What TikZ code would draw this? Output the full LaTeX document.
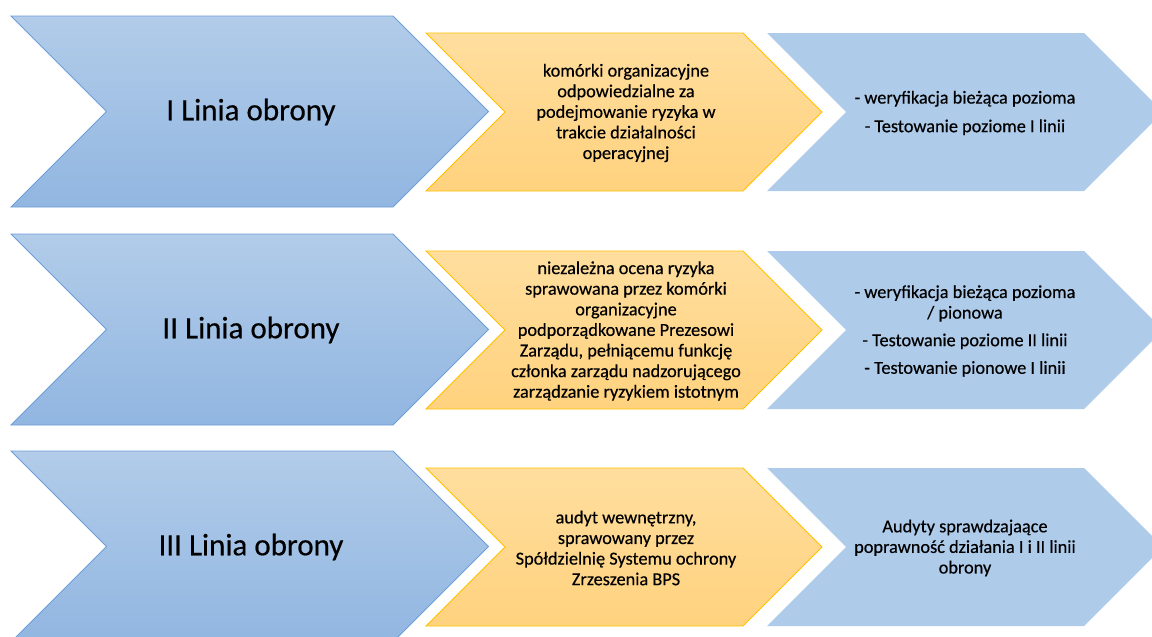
\documentclass[tikz,border=0pt]{standalone}
\usepackage{fontspec}
\setmainfont{Carlito}
\definecolor{bigtop}{HTML}{B2CCE9}
\definecolor{bigbot}{HTML}{91B6E1}
\definecolor{bigline}{HTML}{6E9ED8}
\definecolor{ortop}{HTML}{FFDE9E}
\definecolor{orbot}{HTML}{FFD27E}
\definecolor{orline}{HTML}{FFC000}
\definecolor{lightblue}{HTML}{AECBEA}
\newcommand\mychev[5]{%
  % #1 style, #2 left x, #3 top y, #4 right x (body), #5 height
  \pgfmathsetmacro\chd{#5/2}%
  \path[#1] (#2,#3) -- (#4,#3) -- ({#4+\chd},{#3+\chd}) -- (#4,{#3+#5})
    -- (#2,{#3+#5}) -- ({#2+\chd},{#3+\chd}) -- cycle;}
\tikzset{
  bigchev/.style={draw=bigline, line width=0.8pt, top color=bigtop, bottom color=bigbot},
  orchev/.style={draw=orline, line width=0.9pt, top color=ortop, bottom color=orbot},
  lbchev/.style={fill=lightblue},
  biglabel/.style={font=\fontsize{31}{36}\selectfont\addfontfeature{FakeBold=0.4}, text=black},
  smalltext/.style={font=\fontsize{18.3}{20.6}\selectfont\addfontfeature{FakeBold=0.4}, align=center, text=black, inner sep=0pt},
}
\begin{document}
\begin{tikzpicture}[x=1pt,y=-1pt]
\useasboundingbox (0,0) rectangle (1152,637);
\clip (0,0) rectangle (1152,637);
% row 1
\mychev{bigchev}{11}{16}{393}{191}
\mychev{orchev}{426}{33}{743}{158}
\mychev{lbchev}{767}{33}{1084}{158}
% row 2
\mychev{bigchev}{11}{234}{393}{191}
\mychev{orchev}{426}{251}{743}{158}
\mychev{lbchev}{767}{251}{1084}{158}
% row 3
\mychev{bigchev}{11}{451}{393}{191}
\mychev{orchev}{426}{468}{743}{158}
\mychev{lbchev}{767}{468}{1084}{158}
% labels
\node[biglabel] (l1) at (251,112) {I Linia obrony};
\node[biglabel] (l2) at (251,330) {II Linia obrony};
\node[biglabel] (l3) at (251,547) {III Linia obrony};
\node[smalltext] (o1) at (626,113) {komórki organizacyjne\\odpowiedzialne za\\podejmowanie ryzyka w\\trakcie działalności\\operacyjnej};
\node[smalltext] (o2) at (626,331) {niezależna ocena ryzyka\\sprawowana przez komórki\\organizacyjne\\podporządkowane Prezesowi\\Zarządu, pełniącemu funkcję\\członka zarządu nadzorującego\\zarządzanie ryzykiem istotnym};
\node[smalltext] (o3) at (626,548) {audyt wewnętrzny,\\sprawowany przez\\Spółdzielnię Systemu ochrony\\Zrzeszenia BPS};
\node[smalltext] (r1) at (965,113) {- weryfikacja bieżąca pozioma\\[8pt]- Testowanie poziome I linii};
\node[smalltext] (r2) at (965,331) {- weryfikacja bieżąca pozioma\\/ pionowa\\[7pt]- Testowanie poziome II linii\\[7pt]- Testowanie pionowe I linii};
\node[smalltext] (r3) at (965,548) {Audyty sprawdzajaące\\poprawność działania I i II linii\\obrony};
\end{tikzpicture}
\end{document}
